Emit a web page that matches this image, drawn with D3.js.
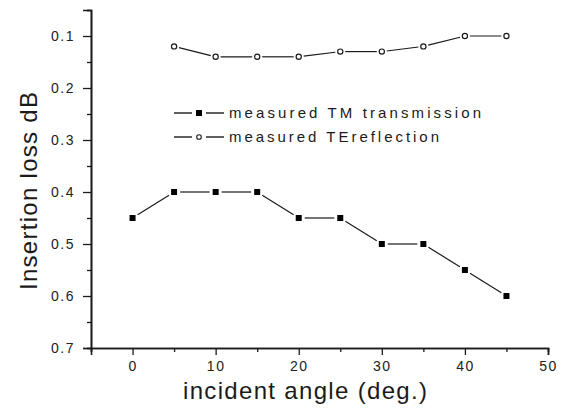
<!DOCTYPE html>
<html>
<head>
<meta charset="utf-8">
<script src="https://cdn.jsdelivr.net/npm/d3@7"></script>
<style>
  html, body { margin: 0; padding: 0; background: #fff; }
  svg { display: block; font-family: "Liberation Sans", Arial, sans-serif; }
</style>
</head>
<body>
<svg id="chart" width="566" height="410"></svg>
<script>
// ---- data ----
const tmAngles = [0, 5, 10, 15, 20, 25, 30, 35, 40, 45];
const tmTransmission = [0.45, 0.40, 0.40, 0.40, 0.45, 0.45, 0.50, 0.50, 0.55, 0.60];
const teAngles = [5, 10, 15, 20, 25, 30, 35, 40, 45];
const teReflection = [0.12, 0.14, 0.14, 0.14, 0.13, 0.13, 0.12, 0.10, 0.10];
const xMajorTicks = [0, 10, 20, 30, 40, 50];
const xMinorTicks = [-5, 5, 15, 25, 35, 45];
const yMajorTicks = [0.1, 0.2, 0.3, 0.4, 0.5, 0.6, 0.7];
const yMinorTicks = [0.05, 0.15, 0.25, 0.35, 0.45, 0.55, 0.65];
const legendLabels = ["measured TM transmission", "measured TEreflection"];
const xTitle = "incident angle (deg.)";
const yTitle = "Insertion loss dB";

// ---- layout ----
const svg = d3.select("#chart");
const x = d3.scaleLinear().domain([-5, 50]).range([91, 548]);
const y = d3.scaleLinear().domain([0.05, 0.7]).range([10, 348]);
const ink = "#1a1a1a";

// axes
const gx = svg.append("g").attr("transform", `translate(0,${y(0.7)})`);
gx.call(d3.axisBottom(x).tickValues(xMajorTicks).tickFormat(d3.format("d")).tickSizeOuter(0).tickSize(7).tickPadding(6));
const gxm = svg.append("g").attr("transform", `translate(0,${y(0.7)})`);
gxm.call(d3.axisBottom(x).tickValues(xMinorTicks).tickFormat("").tickSizeOuter(0).tickSize(4));

const gy = svg.append("g").attr("transform", `translate(${x(-5)},0)`);
gy.call(d3.axisLeft(y).tickValues(yMajorTicks).tickFormat(d3.format(".1f")).tickSizeOuter(0).tickSize(8).tickPadding(8));
const gym = svg.append("g").attr("transform", `translate(${x(-5)},0)`);
gym.call(d3.axisLeft(y).tickValues(yMinorTicks).tickFormat("").tickSizeOuter(0).tickSize(4));

[gx, gxm, gy, gym].forEach(g => {
  g.selectAll("path.domain").attr("stroke", ink).attr("stroke-width", 1.6);
  g.selectAll(".tick line").attr("stroke", ink).attr("stroke-width", 1.3);
  g.selectAll(".tick text").attr("fill", "#222").attr("font-size", 14)
    .attr("font-family", "'Liberation Sans', Arial, sans-serif");
});
gy.selectAll(".tick text").attr("letter-spacing", 1.5);
gx.selectAll(".tick text").attr("letter-spacing", 1.5);

// titles
svg.append("text")
  .attr("x", 305).attr("y", 399)
  .attr("text-anchor", "middle")
  .attr("font-size", 24).attr("fill", ink)
  .attr("textLength", 244).attr("lengthAdjust", "spacing")
  .text(xTitle);
svg.append("text")
  .attr("transform", "translate(37,191) rotate(-90)")
  .attr("text-anchor", "middle")
  .attr("font-size", 24).attr("fill", ink)
  .attr("textLength", 198).attr("lengthAdjust", "spacing")
  .text(yTitle);

// series: segments with gaps near markers
function drawSeries(xs, ys, gap) {
  const pts = xs.map((d, i) => [x(d), y(ys[i])]);
  const segs = [];
  for (let i = 0; i < pts.length - 1; i++) {
    const [x0, y0] = pts[i], [x1, y1] = pts[i + 1];
    const len = Math.hypot(x1 - x0, y1 - y0);
    const ux = (x1 - x0) / len, uy = (y1 - y0) / len;
    segs.push([x0 + ux * gap, y0 + uy * gap, x1 - ux * gap, y1 - uy * gap]);
  }
  svg.append("g").selectAll("line").data(segs).join("line")
    .attr("x1", d => d[0]).attr("y1", d => d[1])
    .attr("x2", d => d[2]).attr("y2", d => d[3])
    .attr("stroke", ink).attr("stroke-width", 1.2);
  return pts;
}

const tmPts = drawSeries(tmAngles, tmTransmission, 6);
svg.append("g").selectAll("rect").data(tmPts).join("rect")
  .attr("x", d => d[0] - 3).attr("y", d => d[1] - 3)
  .attr("width", 6).attr("height", 6).attr("fill", "#000");

const tePts = drawSeries(teAngles, teReflection, 5);
svg.append("g").selectAll("circle").data(tePts).join("circle")
  .attr("cx", d => d[0]).attr("cy", d => d[1]).attr("r", 2.6)
  .attr("fill", "#fff").attr("stroke", ink).attr("stroke-width", 1.2);

// legend
const leg = svg.append("g");
const legRows = [
  { label: legendLabels[0], y: 113, marker: "square", len: 252 },
  { label: legendLabels[1], y: 137, marker: "circle", len: 210 }
];
legRows.forEach(r => {
  leg.append("line").attr("x1", 174).attr("x2", 192).attr("y1", r.y).attr("y2", r.y)
    .attr("stroke", ink).attr("stroke-width", 1.4);
  leg.append("line").attr("x1", 206).attr("x2", 224).attr("y1", r.y).attr("y2", r.y)
    .attr("stroke", ink).attr("stroke-width", 1.4);
  if (r.marker === "square") {
    leg.append("rect").attr("x", 196).attr("y", r.y - 3).attr("width", 6).attr("height", 6).attr("fill", "#000");
  } else {
    leg.append("circle").attr("cx", 199).attr("cy", r.y).attr("r", 2.3)
      .attr("fill", "#fff").attr("stroke", ink).attr("stroke-width", 1.1);
  }
  leg.append("text").attr("x", 229).attr("y", r.y + 5)
    .attr("font-size", 15).attr("fill", ink)
    .attr("textLength", r.len).attr("lengthAdjust", "spacing")
    .text(r.label);
});
</script>
</body>
</html>
